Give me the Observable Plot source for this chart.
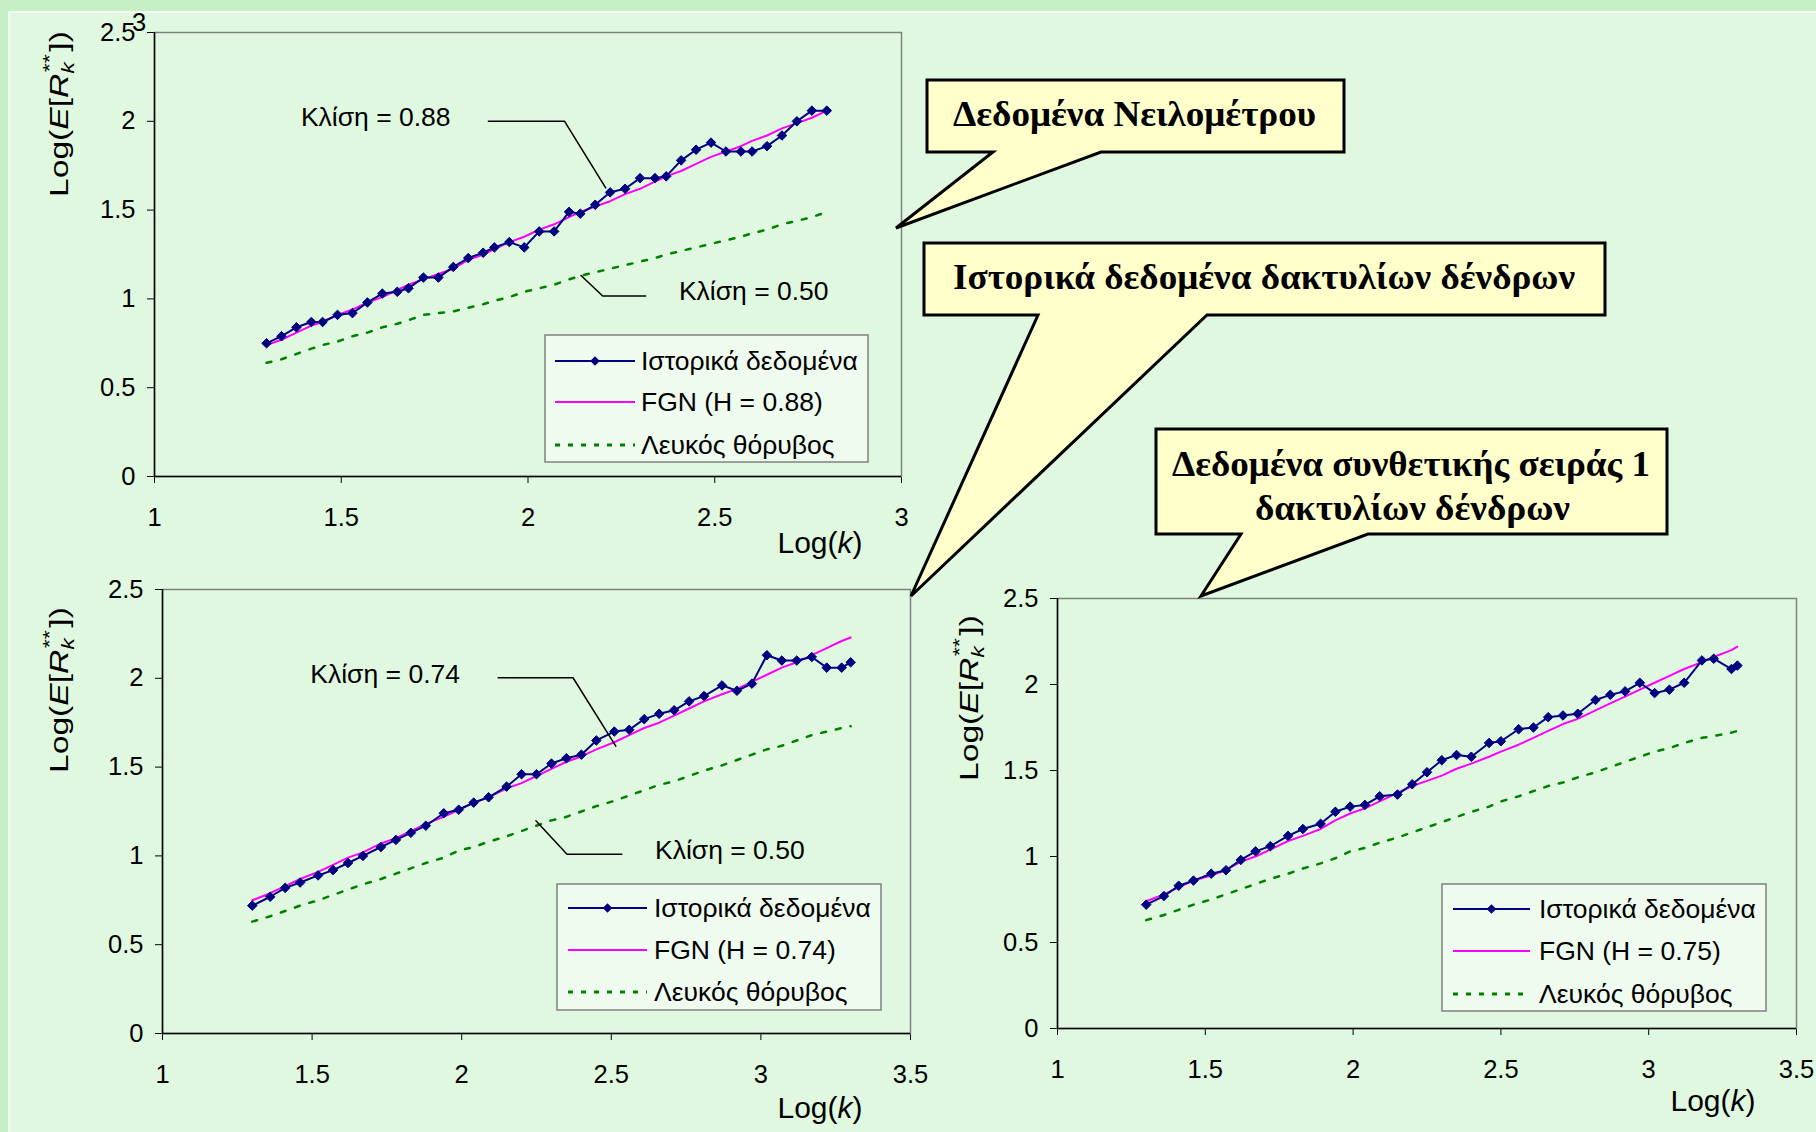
<!DOCTYPE html>
<html><head><meta charset="utf-8">
<script src="https://cdn.jsdelivr.net/npm/d3@7"></script>
<script src="https://cdn.jsdelivr.net/npm/@observablehq/plot@0.6"></script>
<style>
html,body{margin:0;padding:0;}
body{width:1816px;height:1132px;background:#c5f0c5;position:relative;overflow:hidden;font-family:"Liberation Sans",Arial,sans-serif;}
#panel{position:absolute;left:8px;top:11px;right:0;bottom:0;background:#e0f8e0;border-left:2px solid #f4fff4;border-top:2px solid #f4fff4;}
.chart{position:absolute;}
.chart svg{overflow:visible;}
#overlay{position:absolute;left:0;top:0;pointer-events:none;overflow:visible;}
</style></head><body>
<div id="panel"></div>
<div id="c1" class="chart" style="left:0;top:0"></div>
<div id="c2" class="chart" style="left:0;top:560px"></div>
<div id="c3" class="chart" style="left:930px;top:560px"></div>
<svg id="overlay" width="1816" height="1132"></svg>
<script>
// ---------- DATA ----------
const xNile = [1.30,1.34,1.38,1.42,1.45,1.49,1.53,1.57,1.61,1.65,1.68,1.72,1.76,1.80,1.84,1.88,1.91,1.95,1.99,2.03,2.07,2.11,2.14,2.18,2.22,2.26,2.30,2.34,2.37,2.41,2.45,2.49,2.53,2.57,2.60,2.64,2.68,2.72,2.76,2.80];
const histNile = [0.75,0.79,0.84,0.87,0.87,0.91,0.92,0.98,1.03,1.04,1.06,1.12,1.12,1.18,1.23,1.26,1.29,1.32,1.29,1.38,1.38,1.49,1.48,1.53,1.60,1.62,1.68,1.68,1.69,1.78,1.84,1.88,1.83,1.83,1.83,1.86,1.92,2.00,2.06,2.06];
const fgnNile = [0.74,0.77,0.81,0.85,0.87,0.91,0.94,0.98,1.01,1.05,1.08,1.11,1.14,1.17,1.22,1.25,1.28,1.32,1.35,1.39,1.42,1.46,1.49,1.52,1.55,1.59,1.62,1.66,1.69,1.72,1.76,1.80,1.83,1.86,1.89,1.92,1.96,1.99,2.02,2.06];
const whiteNile = [0.64,0.66,0.69,0.72,0.74,0.76,0.79,0.81,0.84,0.86,0.88,0.91,0.92,0.93,0.95,0.97,0.99,1.01,1.04,1.06,1.08,1.11,1.13,1.15,1.17,1.19,1.21,1.23,1.25,1.27,1.29,1.31,1.33,1.35,1.37,1.39,1.42,1.44,1.46,1.49];

const xTree = [1.30,1.36,1.41,1.46,1.52,1.57,1.62,1.67,1.73,1.78,1.83,1.88,1.94,1.99,2.04,2.09,2.15,2.20,2.25,2.30,2.35,2.40,2.45,2.51,2.56,2.61,2.66,2.71,2.76,2.81,2.87,2.92,2.97,3.02,3.07,3.12,3.17,3.22,3.27,3.30];
const histTree = [0.72,0.77,0.82,0.85,0.89,0.92,0.96,1.00,1.05,1.09,1.13,1.17,1.24,1.26,1.30,1.33,1.39,1.46,1.46,1.52,1.55,1.57,1.65,1.70,1.71,1.77,1.80,1.82,1.87,1.90,1.96,1.93,1.97,2.13,2.10,2.10,2.12,2.06,2.06,2.09];
const fgnTree = [0.75,0.79,0.83,0.87,0.91,0.95,0.99,1.02,1.07,1.10,1.14,1.18,1.22,1.26,1.30,1.33,1.38,1.41,1.45,1.49,1.53,1.56,1.60,1.64,1.68,1.72,1.75,1.79,1.83,1.87,1.91,1.94,1.98,2.02,2.06,2.09,2.13,2.17,2.21,2.23];
const whiteTree = [0.63,0.66,0.69,0.72,0.75,0.78,0.81,0.84,0.87,0.90,0.93,0.96,0.99,1.03,1.05,1.08,1.11,1.14,1.17,1.20,1.22,1.25,1.28,1.31,1.34,1.37,1.40,1.42,1.45,1.48,1.51,1.54,1.57,1.60,1.62,1.65,1.68,1.70,1.72,1.73];

const xSynth = [1.30,1.36,1.41,1.46,1.52,1.57,1.62,1.67,1.72,1.78,1.83,1.89,1.94,1.99,2.04,2.09,2.15,2.20,2.25,2.30,2.35,2.40,2.46,2.50,2.56,2.61,2.66,2.71,2.76,2.82,2.87,2.92,2.97,3.02,3.07,3.12,3.18,3.22,3.28,3.30];
const histSynth = [0.72,0.77,0.83,0.86,0.90,0.92,0.98,1.03,1.06,1.12,1.16,1.19,1.26,1.29,1.30,1.35,1.36,1.42,1.49,1.56,1.59,1.58,1.66,1.67,1.74,1.75,1.81,1.82,1.83,1.91,1.94,1.96,2.01,1.95,1.97,2.01,2.14,2.15,2.09,2.11];
const fgnSynth = [0.74,0.78,0.82,0.86,0.89,0.92,0.97,1.00,1.04,1.09,1.12,1.16,1.21,1.25,1.28,1.32,1.37,1.41,1.44,1.47,1.51,1.54,1.58,1.61,1.65,1.69,1.73,1.77,1.80,1.85,1.89,1.93,1.97,2.01,2.05,2.09,2.13,2.16,2.20,2.22];
const whiteSynth = [0.63,0.66,0.69,0.72,0.75,0.78,0.81,0.84,0.87,0.90,0.93,0.96,0.99,1.03,1.05,1.08,1.11,1.14,1.17,1.20,1.23,1.26,1.29,1.32,1.35,1.38,1.41,1.43,1.46,1.49,1.52,1.55,1.58,1.61,1.63,1.66,1.69,1.70,1.72,1.73];

const yTicks = [0,0.5,1,1.5,2,2.5];
const xTicksNile = [1,1.5,2,2.5,3];
const xTicksTree = [1,1.5,2,2.5,3,3.5];
const seriesNames = ["Ιστορικά δεδομένα", "Λευκός θόρυβος"];
const fgnNames = ["FGN (H = 0.88)", "FGN (H = 0.74)", "FGN (H = 0.75)"];
const slopeNile = ["Κλίση = 0.88", "Κλίση = 0.50"];
const slopeTree = ["Κλίση = 0.74", "Κλίση = 0.50"];
const calloutTitles = ["Δεδομένα Νειλομέτρου", "Ιστορικά δεδομένα δακτυλίων δένδρων", "Δεδομένα συνθετικής σειράς 1", "δακτυλίων δένδρων"];

// annotation anchors (data space)
const notesNile = [{x:1.392,y:2.02,t:slopeNile[0]},{x:2.404,y:1.04,t:slopeNile[1]}];
const leadersNile = [[[1.894,2.0],[2.098,2.0],[2.208,1.625]],[[2.142,1.132],[2.2,1.016],[2.315,1.016]]];
const notesTree = [{x:1.494,y:2.02,t:slopeTree[0]},{x:2.646,y:1.03,t:slopeTree[1]}];
const leadersTree = [[[2.122,2.003],[2.372,2.003],[2.515,1.618]],[[2.248,1.198],[2.352,1.009],[2.535,1.009]]];

// ---------- CHARTS ----------
const NAVY = "#000080", PINK = "#ff00ff", GREEN = "#008000";
function chart(el, o) {
  const rows = o.x.map((x, i) => ({x, hist: o.hist[i], fgn: o.fgn[i], white: o.white[i]}));
  const marks = [
    Plot.frame({stroke: "#808080", strokeWidth: 1.5}),
    Plot.ruleY([0], {stroke: "#000", strokeWidth: 1.5}),
    Plot.ruleX([o.xDomain[0]], {stroke: "#000", strokeWidth: 1.5}),
    Plot.line(rows, {x: "x", y: "white", stroke: GREEN, strokeWidth: 2.5, strokeDasharray: "5,10"}),
    Plot.line(rows, {x: "x", y: "fgn", stroke: PINK, strokeWidth: 2}),
    Plot.line(rows, {x: "x", y: "hist", stroke: NAVY, strokeWidth: 2}),
    Plot.dot(rows, {x: "x", y: "hist", symbol: "diamond2", r: 4.3, fill: NAVY, stroke: NAVY, strokeWidth: 1})
  ];
  (o.leaders || []).forEach(L => marks.push(Plot.line(L, {x: d => d[0], y: d => d[1], stroke: "#000", strokeWidth: 1.5})));
  if (o.notes) marks.push(Plot.text(o.notes, {x: "x", y: "y", text: "t", textAnchor: "start", fontSize: 26.5, fill: "#000"}));
  const svg = Plot.plot({
    width: o.width, height: o.height,
    marginLeft: o.m[0], marginRight: o.m[1], marginTop: o.m[2], marginBottom: o.m[3],
    x: {domain: o.xDomain, ticks: o.xTicks, tickFormat: d => String(d), tickSize: 7, tickPadding: 24, label: null},
    y: {domain: [0, 2.5], ticks: yTicks, tickFormat: d => String(d), tickSize: 7, tickPadding: 12, label: null},
    style: {fontFamily: '"Liberation Sans", Arial, sans-serif', fontSize: "25.5px", background: "transparent", color: "#000", overflow: "visible"},
    marks
  });
  document.getElementById(el).appendChild(svg);
}

chart("c1", {x: xNile, hist: histNile, fgn: fgnNile, white: whiteNile, xDomain: [1, 3], xTicks: xTicksNile,
  width: 920, height: 560, m: [154, 19, 32, 84], notes: notesNile, leaders: leadersNile});
chart("c2", {x: xTree, hist: histTree, fgn: fgnTree, white: whiteTree, xDomain: [1, 3.5], xTicks: xTicksTree,
  width: 930, height: 572, m: [162, 20, 29, 99], notes: notesTree, leaders: leadersTree});
chart("c3", {x: xSynth, hist: histSynth, fgn: fgnSynth, white: whiteSynth, xDomain: [1, 3.5], xTicks: xTicksTree,
  width: 886, height: 572, m: [127, 20, 38, 104]});

// ---------- OVERLAY (titles, legends, callouts) ----------
const ov = d3.select("#overlay");
const SANS = '"Liberation Sans", Arial, sans-serif';
const SERIF = '"Liberation Serif", "Times New Roman", serif';

function yTitle(x, y, len) {
  const t = ov.append("text").attr("transform", `translate(${x},${y}) rotate(-90)`)
    .attr("font-family", SANS).attr("font-size", 26).attr("fill", "#000");
  t.append("tspan").text("Log(");
  t.append("tspan").attr("font-style", "italic").text("E");
  t.append("tspan").text("[");
  t.append("tspan").attr("font-style", "italic").text("R");
  t.append("tspan").attr("font-style", "italic").attr("font-size", 18).attr("dy", 6).text("k");
  t.append("tspan").attr("font-size", 18).attr("dx", -8).attr("dy", -18).text("**");
  t.append("tspan").attr("dx", 2).attr("dy", 12).text("])");
  const w = t.node().getBBox().width;
  t.attr("transform", `translate(${x},${y}) rotate(-90) scale(${len / w},1)`);
}
function xTitle(x, y) {
  const t = ov.append("text").attr("x", x).attr("y", y).attr("text-anchor", "middle")
    .attr("font-family", SANS).attr("font-size", 30).attr("fill", "#000");
  t.append("tspan").text("Log(");
  t.append("tspan").attr("font-style", "italic").text("k");
  t.append("tspan").text(")");
}
yTitle(68, 197, 166); yTitle(68, 773, 166); yTitle(978, 781, 166);
xTitle(820, 553); xTitle(820, 1118); xTitle(1713, 1111);
// stray "3" overlapping the 2.5 tick label in the first chart
ov.append("text").attr("x", 132).attr("y", 31).attr("font-family", SANS).attr("font-size", 25.5).text("3");

function legend(x, y, w, h, lineX0, lineX1, textX, ys, fgnLabel) {
  ov.append("rect").attr("x", x).attr("y", y).attr("width", w).attr("height", h)
    .attr("fill", "#f0fbf0").attr("stroke", "#808080").attr("stroke-width", 1.5);
  ov.append("line").attr("x1", lineX0).attr("x2", lineX1).attr("y1", ys[0]).attr("y2", ys[0]).attr("stroke", NAVY).attr("stroke-width", 2);
  const cx = (lineX0 + lineX1) / 2;
  ov.append("path").attr("d", d3.symbol(d3.symbolDiamond2, 60)()).attr("transform", `translate(${cx},${ys[0]})`).attr("fill", NAVY);
  ov.append("line").attr("x1", lineX0).attr("x2", lineX1).attr("y1", ys[1]).attr("y2", ys[1]).attr("stroke", PINK).attr("stroke-width", 2);
  ov.append("line").attr("x1", lineX0).attr("x2", lineX1).attr("y1", ys[2]).attr("y2", ys[2]).attr("stroke", GREEN).attr("stroke-width", 3).attr("stroke-dasharray", "5,8");
  [seriesNames[0], fgnLabel, seriesNames[1]].forEach((s, i) =>
    ov.append("text").attr("x", textX).attr("y", ys[i]).attr("dy", "0.35em")
      .attr("font-family", SANS).attr("font-size", 26.5).attr("fill", "#000").text(s));
}
legend(545, 335, 323, 127, 555, 635, 641, [361, 402, 445], fgnNames[0]);
legend(557, 884, 324, 126, 568, 647, 654, [908, 950, 992], fgnNames[1]);
legend(1442, 884, 324, 127, 1453, 1530, 1539, [909, 951, 994], fgnNames[2]);

function callout(pts, lines) {
  ov.append("polygon").attr("points", pts.map(p => p.join(",")).join(" "))
    .attr("fill", "#ffffcc").attr("stroke", "#000").attr("stroke-width", 3).attr("stroke-linejoin", "miter");
  lines.forEach(l => ov.append("text").attr("x", l.x).attr("y", l.y).attr("textLength", l.w)
    .attr("lengthAdjust", "spacingAndGlyphs").attr("font-family", SERIF).attr("font-weight", "bold")
    .attr("font-size", 35).attr("fill", "#000").text(l.t));
}
callout([[927,80],[1344,80],[1344,152],[1101,152],[896,228],[993,152],[927,152]],
  [{x: 953, y: 126, w: 363, t: calloutTitles[0]}]);
callout([[924,243],[1605,243],[1605,315],[1207,315],[911,596],[1038,315],[924,315]],
  [{x: 953, y: 289, w: 622, t: calloutTitles[1]}]);
callout([[1156,429],[1667,429],[1667,534],[1368,534],[1201,596],[1241,534],[1156,534]],
  [{x: 1172, y: 476, w: 478, t: calloutTitles[2]}, {x: 1255, y: 520, w: 315, t: calloutTitles[3]}]);
</script>
</body></html>
